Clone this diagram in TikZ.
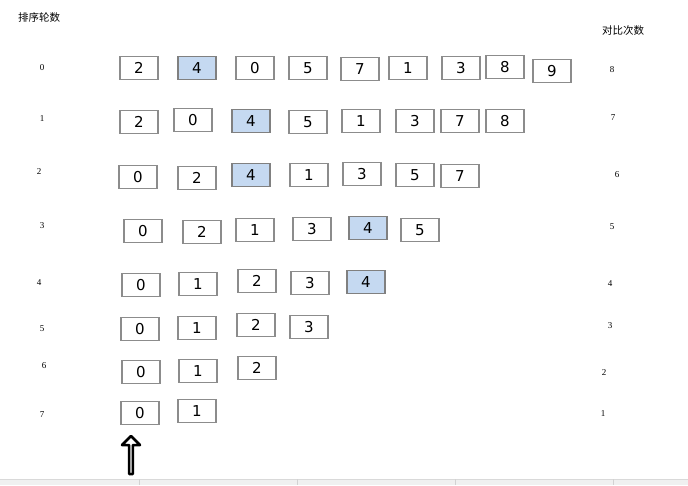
\documentclass[tikz,border=0pt]{standalone}
\usepackage{fontspec}
\setmainfont{DejaVu Sans}
\newfontfamily\cjk{Noto Sans CJK SC}
\newfontfamily\numfont{Liberation Serif}
\usetikzlibrary{shapes.arrows}
\definecolor{selblue}{RGB}{197,217,241}
\definecolor{boxline}{RGB}{140,140,140}

\begin{document}
\begin{tikzpicture}[x=1pt, y=-1pt,
	every node/.style={inner sep=0pt},
	cell/.style={draw=boxline, line width=1.1pt, fill=white, minimum width=38pt, minimum height=23pt, font=\fontsize{15}{15}\selectfont},
	hot/.style={cell, fill=selblue, draw=gray},
	round/.style={font=\numfont\fontsize{9}{9}\selectfont},
	head/.style={font=\cjk\fontsize{10.5}{11}\selectfont}]
	\useasboundingbox[fill=white] (0,0) rectangle (688,485);
	% bottom strip
	\fill[gray!12] (0,479) rectangle (688,485);
	\draw[gray!30] (0,479) -- (688,479);
	\draw[gray!35] (139,479) -- (139,485) (297,479) -- (297,485) (455,479) -- (455,485) (613,479) -- (613,485);

	\node[head] (lhead) at (39,17) {排序轮数};
	\node[head] (rhead) at (623,31) {对比次数};

	% round 0
	\node[round] (l0) at (42,68) {0};
	\node[cell] (a0) at (139,68) {2};
	\node[hot] (b0) at (197,68) {4};
	\node[cell] (c0) at (255,68) {0};
	\node[cell] (d0) at (308,68) {5};
	\node[cell] (e0) at (360,69) {7};
	\node[cell] (f0) at (408,68) {1};
	\node[cell] (g0) at (461,68) {3};
	\node[cell] (h0) at (505,67) {8};
	\node[cell] (i0) at (552,71) {9};
	\node[round] (n0) at (612,70) {8};

	% round 1
	\node[round] (l1) at (42,119) {1};
	\node[cell] (a1) at (139,122) {2};
	\node[cell] (b1) at (193,120) {0};
	\node[hot] (c1) at (251,121) {4};
	\node[cell] (d1) at (308,122) {5};
	\node[cell] (e1) at (361,121) {1};
	\node[cell] (f1) at (415,121) {3};
	\node[cell] (g1) at (460,121) {7};
	\node[cell] (h1) at (505,121) {8};
	\node[round] (n1) at (613,118) {7};

	% round 2
	\node[round] (l2) at (39,172) {2};
	\node[cell] (a2) at (138,177) {0};
	\node[cell] (b2) at (197,178) {2};
	\node[hot] (c2) at (251,175) {4};
	\node[cell] (d2) at (309,175) {1};
	\node[cell] (e2) at (362,174) {3};
	\node[cell] (f2) at (415,175) {5};
	\node[cell] (g2) at (460,176) {7};
	\node[round] (n2) at (617,175) {6};

	% round 3
	\node[round] (l3) at (42,226) {3};
	\node[cell] (a3) at (143,231) {0};
	\node[cell] (b3) at (202,232) {2};
	\node[cell] (c3) at (255,230) {1};
	\node[cell] (d3) at (312,229) {3};
	\node[hot] (e3) at (368,228) {4};
	\node[cell] (f3) at (420,230) {5};
	\node[round] (n3) at (612,227) {5};

	% round 4
	\node[round] (l4) at (39,283) {4};
	\node[cell] (a4) at (141,285) {0};
	\node[cell] (b4) at (198,284) {1};
	\node[cell] (c4) at (257,281) {2};
	\node[cell] (d4) at (310,283) {3};
	\node[hot] (e4) at (366,282) {4};
	\node[round] (n4) at (610,284) {4};

	% round 5
	\node[round] (l5) at (42,329) {5};
	\node[cell] (a5) at (140,329) {0};
	\node[cell] (b5) at (197,328) {1};
	\node[cell] (c5) at (256,325) {2};
	\node[cell] (d5) at (309,327) {3};
	\node[round] (n5) at (610,326) {3};

	% round 6
	\node[round] (l6) at (44,366) {6};
	\node[cell] (a6) at (141,372) {0};
	\node[cell] (b6) at (198,371) {1};
	\node[cell] (c6) at (257,368) {2};
	\node[round] (n6) at (604,373) {2};

	% round 7
	\node[round] (l7) at (42,415) {7};
	\node[cell] (a7) at (140,413) {0};
	\node[cell] (b7) at (197,411) {1};
	\node[round] (n7) at (603,414) {1};

	% pointer
	\node[single arrow, draw, line width=2.6pt, line join=round, fill=white, shape border rotate=90, minimum height=38pt, minimum width=18pt, single arrow head extend=5pt, single arrow head indent=0pt] (ptr) at (131,456) {};
\end{tikzpicture}
\end{document}
